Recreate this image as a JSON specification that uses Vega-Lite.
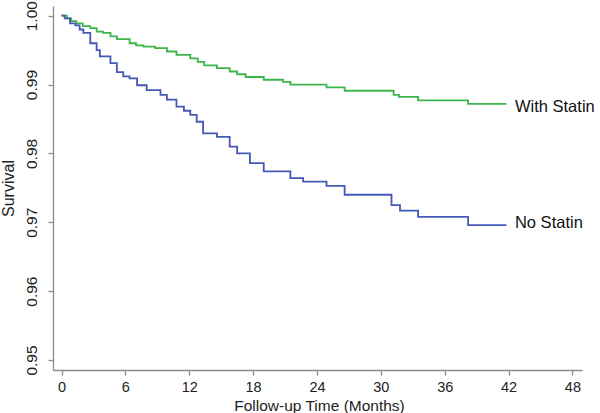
{
  "$schema": "https://vega.github.io/schema/vega-lite/v6.json",
  "width": 529,
  "height": 364,
  "autosize": "none",
  "padding": {"left": 53, "top": 6, "right": 18, "bottom": 43},
  "background": "white",
  "config": {"view": {"stroke": null}, "font": "Liberation Sans"},
  "layer": [
    {
      "data": {"values": [
        {"group": "With Statin", "month": 0, "surv": 1.0},
        {"group": "With Statin", "month": 0.5, "surv": 0.9996},
        {"group": "With Statin", "month": 0.9, "surv": 0.9992},
        {"group": "With Statin", "month": 1.4, "surv": 0.9989},
        {"group": "With Statin", "month": 2.0, "surv": 0.9985},
        {"group": "With Statin", "month": 2.7, "surv": 0.9982},
        {"group": "With Statin", "month": 3.3, "surv": 0.9977},
        {"group": "With Statin", "month": 3.9, "surv": 0.9975},
        {"group": "With Statin", "month": 4.6, "surv": 0.9970},
        {"group": "With Statin", "month": 5.2, "surv": 0.9966},
        {"group": "With Statin", "month": 6.4, "surv": 0.9960},
        {"group": "With Statin", "month": 7.0, "surv": 0.9957},
        {"group": "With Statin", "month": 7.7, "surv": 0.9955},
        {"group": "With Statin", "month": 8.8, "surv": 0.9953},
        {"group": "With Statin", "month": 9.9, "surv": 0.9948},
        {"group": "With Statin", "month": 10.8, "surv": 0.9943},
        {"group": "With Statin", "month": 12.1, "surv": 0.9938},
        {"group": "With Statin", "month": 12.8, "surv": 0.9933},
        {"group": "With Statin", "month": 13.4, "surv": 0.9928},
        {"group": "With Statin", "month": 14.6, "surv": 0.9924},
        {"group": "With Statin", "month": 15.8, "surv": 0.9919},
        {"group": "With Statin", "month": 16.5, "surv": 0.9915},
        {"group": "With Statin", "month": 17.3, "surv": 0.9911},
        {"group": "With Statin", "month": 19.0, "surv": 0.9907},
        {"group": "With Statin", "month": 20.8, "surv": 0.9904},
        {"group": "With Statin", "month": 21.5, "surv": 0.9900},
        {"group": "With Statin", "month": 24.9, "surv": 0.9896},
        {"group": "With Statin", "month": 26.6, "surv": 0.9891},
        {"group": "With Statin", "month": 31.2, "surv": 0.9885},
        {"group": "With Statin", "month": 31.7, "surv": 0.9882},
        {"group": "With Statin", "month": 33.5, "surv": 0.9877},
        {"group": "With Statin", "month": 38.2, "surv": 0.9872},
        {"group": "With Statin", "month": 41.8, "surv": 0.9872},
        {"group": "No Statin", "month": 0, "surv": 1.0},
        {"group": "No Statin", "month": 0.3, "surv": 0.9996},
        {"group": "No Statin", "month": 0.8, "surv": 0.9989},
        {"group": "No Statin", "month": 1.3, "surv": 0.9986},
        {"group": "No Statin", "month": 1.7, "surv": 0.9980},
        {"group": "No Statin", "month": 2.05, "surv": 0.9975},
        {"group": "No Statin", "month": 2.7, "surv": 0.9960},
        {"group": "No Statin", "month": 3.3, "surv": 0.9950},
        {"group": "No Statin", "month": 3.6, "surv": 0.9941},
        {"group": "No Statin", "month": 4.6, "surv": 0.9931},
        {"group": "No Statin", "month": 5.2, "surv": 0.9918},
        {"group": "No Statin", "month": 5.8, "surv": 0.9912},
        {"group": "No Statin", "month": 6.4, "surv": 0.9909},
        {"group": "No Statin", "month": 7.1, "surv": 0.9899},
        {"group": "No Statin", "month": 8.0, "surv": 0.9892},
        {"group": "No Statin", "month": 9.3, "surv": 0.9885},
        {"group": "No Statin", "month": 9.9, "surv": 0.9878},
        {"group": "No Statin", "month": 10.8, "surv": 0.9868},
        {"group": "No Statin", "month": 11.5, "surv": 0.9862},
        {"group": "No Statin", "month": 12.1, "surv": 0.9856},
        {"group": "No Statin", "month": 12.7, "surv": 0.9846},
        {"group": "No Statin", "month": 13.3, "surv": 0.9829},
        {"group": "No Statin", "month": 14.6, "surv": 0.9824},
        {"group": "No Statin", "month": 15.8, "surv": 0.9810},
        {"group": "No Statin", "month": 16.5, "surv": 0.9800},
        {"group": "No Statin", "month": 17.7, "surv": 0.9786},
        {"group": "No Statin", "month": 19.0, "surv": 0.9774},
        {"group": "No Statin", "month": 21.5, "surv": 0.9764},
        {"group": "No Statin", "month": 22.7, "surv": 0.9759},
        {"group": "No Statin", "month": 24.9, "surv": 0.9753},
        {"group": "No Statin", "month": 26.6, "surv": 0.9740},
        {"group": "No Statin", "month": 31.0, "surv": 0.9725},
        {"group": "No Statin", "month": 31.8, "surv": 0.9717},
        {"group": "No Statin", "month": 33.5, "surv": 0.9708},
        {"group": "No Statin", "month": 38.2, "surv": 0.9696},
        {"group": "No Statin", "month": 41.8, "surv": 0.9696}
      ]},
      "mark": {"type": "line", "interpolate": "step-after", "strokeWidth": 1.8},
      "encoding": {
        "x": {
          "field": "month", "type": "quantitative",
          "scale": {"domain": [-0.8, 48.9], "nice": false, "zero": false},
          "axis": {
            "values": [0, 6, 12, 18, 24, 30, 36, 42, 48],
            "title": "Follow-up Time (Months)",
            "grid": false,
            "domainColor": "#8c8c8c", "domainWidth": 1.3,
            "tickColor": "#8c8c8c", "tickWidth": 1.3, "tickSize": 5,
            "labelFontSize": 14.5, "labelColor": "#222", "labelPadding": 5,
            "labelBaseline": "top", "labelFlush": false,
            "titleFontSize": 15.5, "titleFontWeight": "normal", "titleColor": "#222",
            "titleX": 266, "titleY": 40, "titleBaseline": "alphabetic", "titleAlign": "center"
          }
        },
        "y": {
          "field": "surv", "type": "quantitative",
          "scale": {"domain": [0.94855, 1.00141], "nice": false, "zero": false},
          "axis": {
            "values": [0.95, 0.96, 0.97, 0.98, 0.99, 1.0],
            "format": ".2f",
            "title": "Survival",
            "grid": false,
            "domainColor": "#8c8c8c", "domainWidth": 1.3,
            "tickColor": "#8c8c8c", "tickWidth": 1.3, "tickSize": 5,
            "labelFontSize": 15.5, "labelColor": "#222", "labelPadding": 12,
            "labelAngle": -90, "labelAlign": "center", "labelBaseline": "alphabetic", "labelFlush": false,
            "titleFontSize": 16, "titleFontWeight": "normal", "titleColor": "#222",
            "titleX": -40, "titleY": 182, "titleAngle": -90, "titleAlign": "center", "titleBaseline": "alphabetic"
          }
        },
        "color": {
          "field": "group", "type": "nominal",
          "scale": {"domain": ["With Statin", "No Statin"], "range": ["#3db54a", "#4459b5"]},
          "legend": null
        }
      }
    },
    {
      "data": {"values": [
        {"label": "With Statin", "month": 42.6, "surv": 0.98675},
        {"label": "No Statin", "month": 42.6, "surv": 0.96991}
      ]},
      "mark": {"type": "text", "align": "left", "baseline": "middle", "fontSize": 16.5, "color": "#111"},
      "encoding": {
        "x": {"field": "month", "type": "quantitative"},
        "y": {"field": "surv", "type": "quantitative"},
        "text": {"field": "label"}
      }
    }
  ]
}
